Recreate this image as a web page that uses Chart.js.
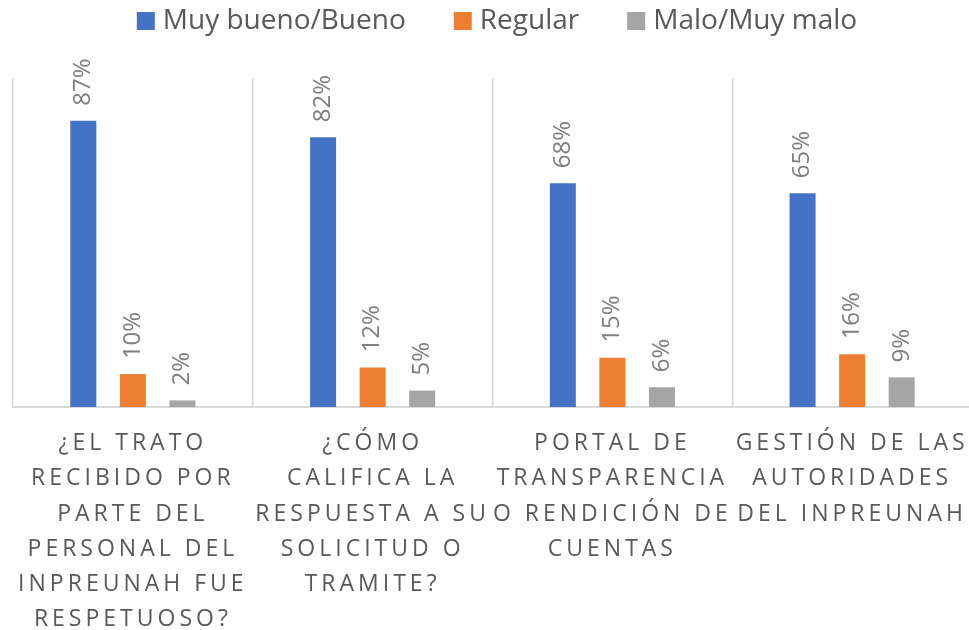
<!DOCTYPE html>
<html>
<head>
<meta charset="utf-8">
<script src="https://cdn.jsdelivr.net/npm/chart.js@4.4.1/dist/chart.umd.min.js"></script>
<style>
  html, body { margin: 0; padding: 0; background: #ffffff; overflow: hidden; }
  #wrap { position: absolute; left: 0; top: 0; width: 996px; height: 630px; }
</style>
</head>
<body>
<div id="wrap"><canvas id="c"></canvas></div>
<script>
const categories = [
  ['¿EL TRATO', 'RECIBIDO POR', 'PARTE DEL', 'PERSONAL DEL', 'INPREUNAH FUE', 'RESPETUOSO?'],
  ['¿CÓMO', 'CALIFICA LA', 'RESPUESTA A SU', 'SOLICITUD O', 'TRAMITE?'],
  ['PORTAL DE', 'TRANSPARENCIA', 'O RENDICIÓN DE', 'CUENTAS'],
  ['GESTIÓN DE LAS', 'AUTORIDADES', 'DEL INPREUNAH']
];
const seriesNames = ['Muy bueno/Bueno', 'Regular', 'Malo/Muy malo'];
const muyBueno = [87, 82, 68, 65];
const regular = [10, 12, 15, 16];
const malo = [2, 5, 6, 9];
const seriesColors = ['#4472C4', '#ED7D31', '#A5A5A5'];

const textColor = '#595959';
const gridColor = '#D9D9D9';

// Custom legend drawn at top
const topLegend = {
  id: 'topLegend',
  afterDraw(chart) {
    const ctx = chart.ctx;
    ctx.save();
    ctx.font = '28px "Open Sans"';
    ctx.textBaseline = 'middle';
    ctx.textAlign = 'left';
    const box = 18, gap = 8, itemGap = 48;
    const items = chart.data.datasets.map(ds => ({ text: ds.label, color: ds.backgroundColor, w: ctx.measureText(ds.label).width }));
    let total = 0;
    items.forEach((it, i) => { total += box + gap + it.w + (i ? itemGap : 0); });
    let x = 497 - total / 2;
    const cy = 21;
    items.forEach(it => {
      ctx.fillStyle = it.color;
      ctx.fillRect(x, cy - box / 2, box, box);
      ctx.fillStyle = textColor;
      ctx.fillText(it.text, x + box + gap, cy);
      x += box + gap + it.w + itemGap;
    });
    ctx.restore();
  }
};

// Rotated value labels
const valueLabels = {
  id: 'valueLabels',
  afterDatasetsDraw(chart) {
    const ctx = chart.ctx;
    ctx.save();
    ctx.font = '24px "Open Sans"';
    ctx.fillStyle = '#7F7F7F';
    ctx.textAlign = 'left';
    ctx.textBaseline = 'middle';
    chart.data.datasets.forEach((ds, di) => {
      const meta = chart.getDatasetMeta(di);
      meta.data.forEach((bar, i) => {
        ctx.save();
        ctx.translate(bar.x, bar.y - 15);
        ctx.rotate(-Math.PI / 2);
        ctx.fillText(ds.data[i] + '%', 0, 0);
        ctx.restore();
      });
    });
    ctx.restore();
  }
};

// Letter-spaced x tick labels
const spacedTicks = {
  id: 'spacedTicks',
  beforeDraw(chart) {
    const sc = chart.scales.x;
    if (sc && !sc._spacedWrapped) {
      const orig = sc.drawLabels;
      sc.drawLabels = function (area) {
        const c = this.ctx;
        const prev = c.letterSpacing;
        c.letterSpacing = '4px';
        orig.call(this, area);
        c.letterSpacing = prev || '0px';
      };
      sc._spacedWrapped = true;
    }
  }
};

new Chart(document.getElementById('c'), {
  type: 'bar',
  data: {
    labels: categories,
    datasets: [
      { label: seriesNames[0], data: muyBueno, backgroundColor: seriesColors[0] },
      { label: seriesNames[1], data: regular, backgroundColor: seriesColors[1] },
      { label: seriesNames[2], data: malo, backgroundColor: seriesColors[2] }
    ]
  },
  options: {
    responsive: true,
    maintainAspectRatio: false,
    animation: false,
    devicePixelRatio: 1,
    categoryPercentage: 0.62,
    barPercentage: 0.525,
    layout: { padding: { left: 13, right: 24, top: 0, bottom: 0 } },
    plugins: {
      legend: { display: false },
      tooltip: { enabled: false },
      title: { display: true, text: '', font: { size: 10, lineHeight: 1 }, padding: { top: 68, bottom: 0 } }
    },
    scales: {
      x: {
        offset: true,
        grid: { display: true, offset: true, color: gridColor, lineWidth: 1.5, drawTicks: false },
        border: { display: true, color: gridColor, width: 2 },
        ticks: {
          color: textColor,
          font: { family: '"Open Sans"', size: 23, lineHeight: 1.53 },
          padding: 19,
          maxRotation: 0,
          minRotation: 0,
          autoSkip: false
        },
        afterFit(scale) { scale.height = 223; }
      },
      y: {
        display: false,
        min: 0,
        max: 100
      }
    }
  },
  plugins: [topLegend, valueLabels, spacedTicks]
});
</script>
</body>
</html>
